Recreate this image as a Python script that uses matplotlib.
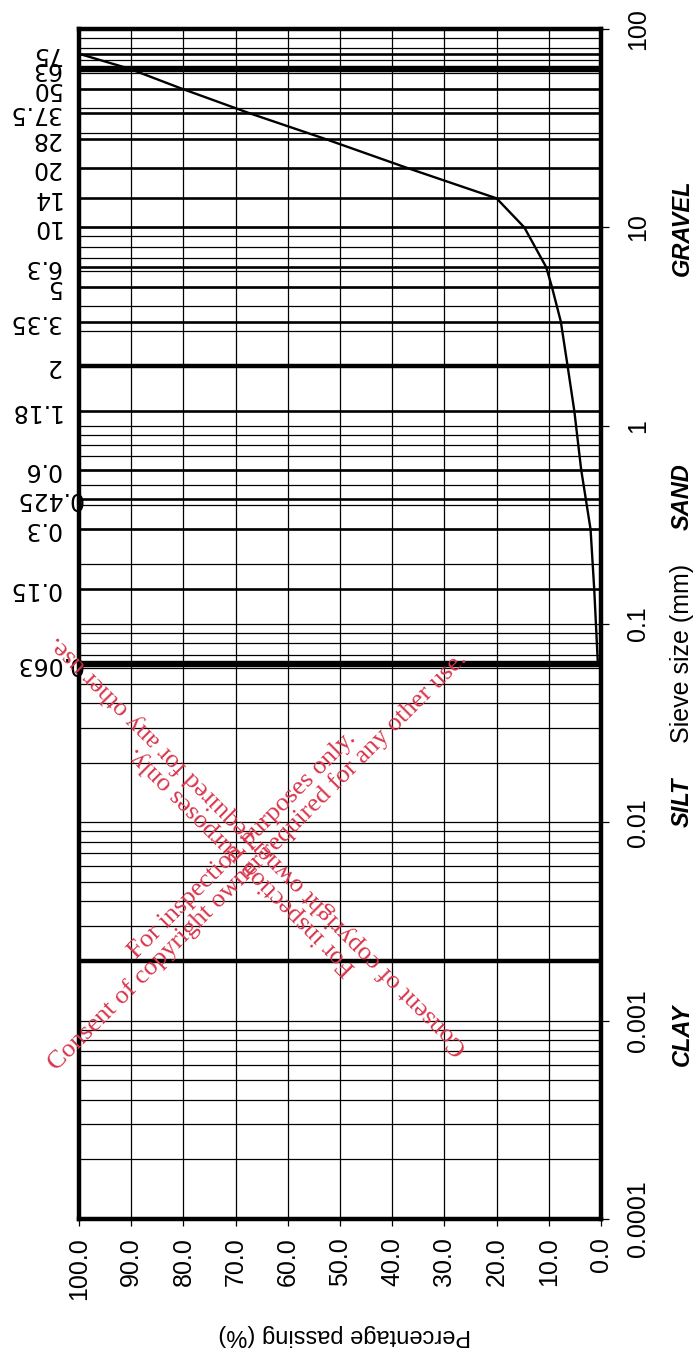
import matplotlib.pyplot as plt
import matplotlib.transforms as mtransforms
from matplotlib.ticker import FixedLocator, NullLocator

plt.rcParams['font.family'] = ['Liberation Sans', 'DejaVu Sans']

# Datos de la curva granulométrica (tamiz en mm, % que pasa)
sieve_sizes = [75, 63, 50, 37.5, 28, 20, 14, 10, 6.3, 5, 3.35, 2, 1.18,
               0.6, 0.425, 0.3, 0.15, 0.063]
sieve_labels = ['75', '63', '50', '37.5', '28', '20', '14', '10', '6.3', '5',
                '3.35', '2', '1.18', '0.6', '0.425', '0.3', '0.15', '0.063']
passing = [100, 90.3, 80.3, 67.2, 53.0, 37.3, 20.0, 14.7, 10.5, 9.4, 7.7,
           6.4, 5.1, 3.8, 2.9, 2.0, 1.3, 0.6]

size_ticks = [0.0001, 0.001, 0.01, 0.1, 1, 10, 100]
size_tick_labels = ['0.0001', '0.001', '0.01', '0.1', '1', '10', '100']
pct_ticks = [0, 10, 20, 30, 40, 50, 60, 70, 80, 90, 100]
pct_tick_labels = ['%.1f' % p for p in pct_ticks]

# Límites entre clases de suelo y nombre de cada clase
boundaries = [0.002, 0.063, 2, 63]
soil_classes = ['CLAY', 'SILT', 'SAND', 'GRAVEL']
class_label_y = [0.00085, 0.0126, 0.44, 10.0]

fig = plt.figure(figsize=(6.99, 13.58), dpi=100)
ax = fig.add_axes([79 / 699, 1 - 1219 / 1358, 522 / 699, 1190 / 1358])

ax.set_yscale('log')
ax.set_ylim(1e-4, 100)
ax.set_xlim(100, 0)

# Rejilla logarítmica fina
for e in range(-4, 2):
    for m in range(1, 10):
        ax.axhline(m * 10.0 ** e, color='black', lw=0.9, zorder=1)

# Líneas de los tamices
for s in sieve_sizes:
    lw = 4.6 if s in (63, 0.063) else (3.2 if s == 2 else 1.9)
    ax.axhline(s, color='black', lw=lw, zorder=2)
ax.axhline(boundaries[0], color='black', lw=3.2, zorder=2)

ax.grid(axis='x', color='black', lw=0.9, zorder=1)
ax.set_axisbelow(True)

ax.plot(passing, sieve_sizes, color='black', lw=1.7, zorder=3)

for sp in ax.spines.values():
    sp.set_linewidth(3.2)
    sp.set_zorder(4)

ax.xaxis.set_major_locator(FixedLocator(pct_ticks))
ax.set_xticklabels(pct_tick_labels)
ax.tick_params(axis='x', direction='out', length=5, width=0.9, pad=8,
               labelsize=18, labelrotation=90)

ax.yaxis.tick_right()
ax.yaxis.set_major_locator(FixedLocator(size_ticks))
ax.yaxis.set_minor_locator(NullLocator())
ax.set_yticklabels(size_tick_labels)
ax.tick_params(axis='y', direction='out', length=6, width=0.9, pad=12,
               labelsize=18, labelrotation=90)
for lab in ax.get_yticklabels():
    lab.set_verticalalignment('center')

# Etiquetas de tamiz (invertidas) a la izquierda
trans = mtransforms.blended_transform_factory(ax.transAxes, ax.transData)
for s, lab in zip(sieve_sizes, sieve_labels):
    xpos = 0.006 if len(lab) > 4 else -0.035
    ax.text(xpos, s, lab, transform=trans, rotation=180, rotation_mode='anchor',
            ha='left', va='center', fontsize=17, family='DejaVu Sans',
            zorder=6)

# Clases de suelo y título del eje de tamaños
for name, y in zip(soil_classes, class_label_y):
    ax.text(1.155, y, name, transform=trans, rotation=90, ha='center',
            va='center', fontsize=17, fontweight='bold', fontstyle='italic')
ax.text(1.155, 0.071, 'Sieve size (mm)', transform=trans, rotation=90,
        ha='center', va='center', fontsize=18)

fig.text(345 / 699, 1 - 1335 / 1358, 'Percentage passing (%)', rotation=180,
         ha='center', va='center', fontsize=17)

# Marca de agua
wm = 'For inspection purposes only.\nConsent of copyright owner required for any other use.'
for rot in (45, 135):
    fig.text(250 / 699, 1 - 853 / 1358, wm, rotation=rot, rotation_mode='anchor',
             ha='center', va='center', multialignment='center', color='#d8364c',
             family='Liberation Serif', fontsize=19, linespacing=1.0, zorder=10)

fig.savefig('out.png', dpi=100, facecolor='white')
